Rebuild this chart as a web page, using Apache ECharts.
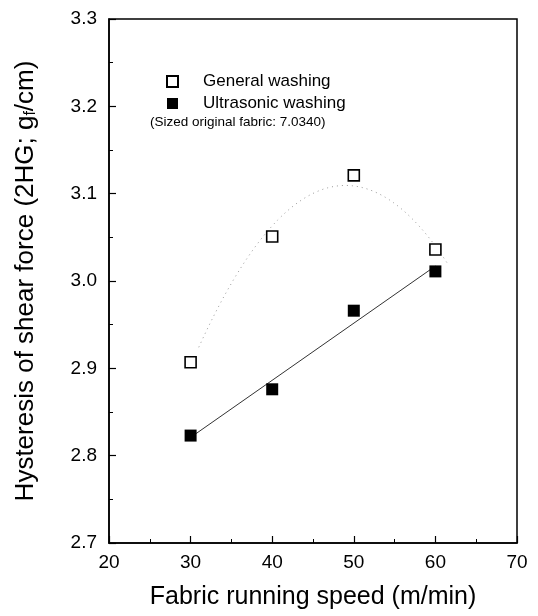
<!DOCTYPE html>
<html>
<head>
<meta charset="utf-8">
<script src="https://cdn.jsdelivr.net/npm/echarts@6/dist/echarts.min.js"></script>
<style>
  html, body { margin: 0; padding: 0; background: #fff; }
  #chart { width: 538px; height: 616px; }
</style>
</head>
<body>
<div id="chart"></div>
<script>
// Fabric running speed (m/min)
const speeds = [30, 40, 50, 60];
// Hysteresis of shear force 2HG (gf/cm)
const generalWashing = [2.907, 3.051, 3.121, 3.036];
const ultrasonicWashing = [2.823, 2.876, 2.966, 3.011];

const xTicks = [20, 30, 40, 50, 60, 70];
const yTicks = [2.7, 2.8, 2.9, 3.0, 3.1, 3.2, 3.3];
const noteText = '(Sized original fabric: 7.0340)';

// Least-squares polynomial fit (degree 1 or 2) of the measured points
function polyFit(xs, ys, degree) {
  const n = degree + 1;
  const A = [];
  for (let r = 0; r < n; r++) {
    A.push(new Array(n + 1).fill(0));
  }
  for (let k = 0; k < xs.length; k++) {
    for (let r = 0; r < n; r++) {
      for (let c = 0; c < n; c++) A[r][c] += Math.pow(xs[k], r + c);
      A[r][n] += ys[k] * Math.pow(xs[k], r);
    }
  }
  for (let i = 0; i < n; i++) {
    let p = i;
    for (let r = i + 1; r < n; r++) {
      if (Math.abs(A[r][i]) > Math.abs(A[p][i])) p = r;
    }
    const tmp = A[i];
    A[i] = A[p];
    A[p] = tmp;
    for (let r = 0; r < n; r++) {
      if (r === i) continue;
      const f = A[r][i] / A[i][i];
      for (let c = i; c <= n; c++) A[r][c] -= f * A[i][c];
    }
  }
  return A.map((row, i) => row[n] / row[i]);
}

function fitCurve(xs, ys, degree, from, to, steps) {
  const coef = polyFit(xs, ys, degree);
  const pts = [];
  for (let s = 0; s <= steps; s++) {
    const x = from + (to - from) * s / steps;
    let y = 0;
    coef.forEach((a, p) => { y += a * Math.pow(x, p); });
    pts.push([x, y]);
  }
  return pts;
}

const generalFit = fitCurve(speeds, generalWashing, 2, 31, 61.5, 60);
const ultrasonicFit = fitCurve(speeds, ultrasonicWashing, 1, 30, 60, 1);

const FONT = '"Liberation Sans", Arial, sans-serif';

const chart = echarts.init(document.getElementById('chart'), null, { renderer: 'canvas' });

chart.setOption({
  animation: false,
  backgroundColor: '#fff',
  textStyle: { fontFamily: FONT, color: '#000' },
  grid: {
    left: 109, right: 21, top: 19, bottom: 73,
    show: true, borderColor: '#000', borderWidth: 1.5, backgroundColor: 'transparent'
  },
  title: {
    text: noteText,
    left: 145, top: 110,
    textStyle: { fontFamily: FONT, fontSize: 13.5, fontWeight: 'normal', color: '#000' }
  },
  legend: {
    orient: 'vertical',
    left: 161, top: 68,
    itemWidth: 11, itemHeight: 11,
    itemGap: 5,
    data: ['General washing', 'Ultrasonic washing'],
    textStyle: { fontFamily: FONT, fontSize: 17, color: '#000', padding: [0, 0, 0, 20] }
  },
  xAxis: {
    type: 'value',
    min: xTicks[0], max: xTicks[xTicks.length - 1], interval: 10,
    name: 'Fabric running speed (m/min)',
    nameLocation: 'middle', nameGap: 42,
    nameTextStyle: { fontFamily: FONT, fontSize: 25, color: '#000' },
    axisLine: { show: true, lineStyle: { color: '#000', width: 1.5 } },
    axisTick: { show: true, inside: true, length: 7, lineStyle: { color: '#000', width: 1.2 } },
    minorTick: { show: true, splitNumber: 2, length: 4, lineStyle: { color: '#000', width: 1 } },
    axisLabel: { fontFamily: FONT, fontSize: 19, color: '#000', margin: 10 },
    splitLine: { show: false }
  },
  yAxis: {
    type: 'value',
    min: yTicks[0], max: yTicks[yTicks.length - 1], interval: 0.1,
    name: 'Hysteresis of shear force (2HG; g{sub|f}/cm)',
    nameLocation: 'middle', nameGap: 70,
    nameTextStyle: {
      fontFamily: FONT, fontSize: 26, color: '#000',
      rich: { sub: { fontFamily: FONT, fontSize: 16, color: '#000', verticalAlign: 'bottom', padding: [10, 0, 0, 0] } }
    },
    axisLine: { show: true, lineStyle: { color: '#000', width: 1.5 } },
    axisTick: { show: true, inside: true, length: 7, lineStyle: { color: '#000', width: 1.2 } },
    minorTick: { show: true, splitNumber: 2, length: 4, lineStyle: { color: '#000', width: 1 } },
    axisLabel: {
      fontFamily: FONT, fontSize: 19, color: '#000', margin: 12,
      formatter: v => v.toFixed(1)
    },
    splitLine: { show: false }
  },
  series: [
    {
      name: 'General fit',
      type: 'line',
      data: generalFit,
      showSymbol: false,
      silent: true,
      z: 1,
      lineStyle: { color: '#9a9a9a', width: 1, type: [1, 4] }
    },
    {
      name: 'Ultrasonic fit',
      type: 'line',
      data: ultrasonicFit,
      showSymbol: false,
      silent: true,
      z: 1,
      lineStyle: { color: '#333', width: 1 }
    },
    {
      name: 'General washing',
      type: 'scatter',
      data: speeds.map((x, i) => [x, generalWashing[i]]),
      symbol: 'rect',
      symbolSize: 11,
      z: 3,
      itemStyle: { color: '#fff', borderColor: '#000', borderWidth: 1.6, opacity: 1 }
    },
    {
      name: 'Ultrasonic washing',
      type: 'scatter',
      data: speeds.map((x, i) => [x, ultrasonicWashing[i]]),
      symbol: 'rect',
      symbolSize: 12,
      z: 3,
      itemStyle: { color: '#000', opacity: 1 }
    }
  ]
});
</script>
</body>
</html>
